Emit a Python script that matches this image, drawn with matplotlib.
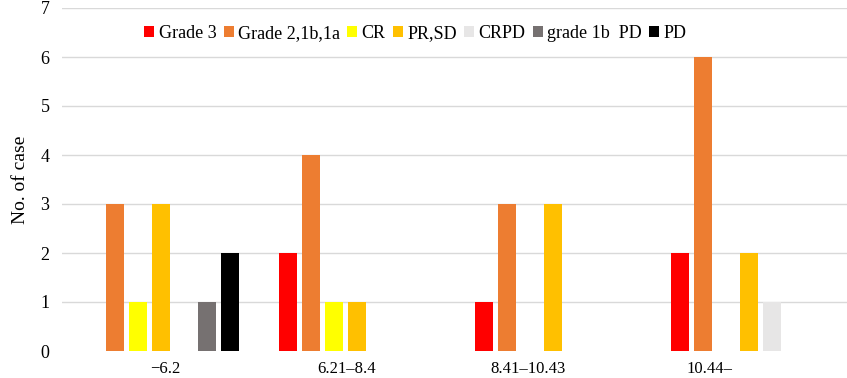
import numpy as np
import matplotlib
matplotlib.use("Agg")
from matplotlib import pyplot as plt

plt.rcParams['font.family'] = ['Liberation Serif', 'DejaVu Serif']

groups = ["\u22126.2", "6.21\u20138.4", "8.41\u201310.43", "10.44\u2013"]
series = ["Grade 3", "Grade 2,1b,1a", "CR", "PR,SD", "CRPD", "grade 1b  PD", "PD"]
grade3 = [0, 2, 1, 2]
grade2 = [3, 4, 3, 6]
cr = [1, 1, 0, 0]
prsd = [3, 1, 3, 2]
crpd = [0, 0, 0, 1]
grade1b_pd = [1, 0, 0, 0]
pd_ = [2, 0, 0, 0]
colors = ["#FF0000", "#ED7D31", "#FFFF00", "#FFC000", "#E7E6E6", "#767171", "#000000"]

values = [grade3, grade2, cr, prsd, crpd, grade1b_pd, pd_]

fig = plt.figure(figsize=(8.47, 3.78), dpi=100)
ax = fig.add_axes([62/847, 1 - 351/378, (847-62)/847, (351-8)/378])

x = np.arange(len(groups))
step = 0.1173
width = 0.092
for i, (name, vals, col) in enumerate(zip(series, values, colors)):
    ax.bar(x + (i - 3) * step, vals, width, color=col, label=name, zorder=3)

ax.set_xlim(-0.505, 3.5)
ax.set_ylim(0, 7)
ax.set_yticks(range(0, 8))
# category labels in the source sit slightly off the bar groups
ax.set_xticks(x * 0.926 + 0.02)
ax.set_xticklabels(groups)
ax.grid(axis='y', color='#D9D9D9', linewidth=1, zorder=0)
ax.yaxis.get_gridlines()[0].set_visible(False)
for s in ax.spines.values():
    s.set_visible(False)
ax.tick_params(axis='both', length=0, labelsize=13)
ax.tick_params(axis='x', pad=7, labelsize=12)
ax.tick_params(axis='y', pad=9)
ax.set_ylabel("No. of case", fontsize=14, labelpad=8)

ax.legend(loc='center', bbox_to_anchor=((415.5-62)/785, 0.925), ncol=7, frameon=False,
          fontsize=13, handlelength=0.55, handleheight=0.55, handletextpad=0.25,
          columnspacing=0.4, borderaxespad=0)

fig.savefig("out.png", dpi=100)
